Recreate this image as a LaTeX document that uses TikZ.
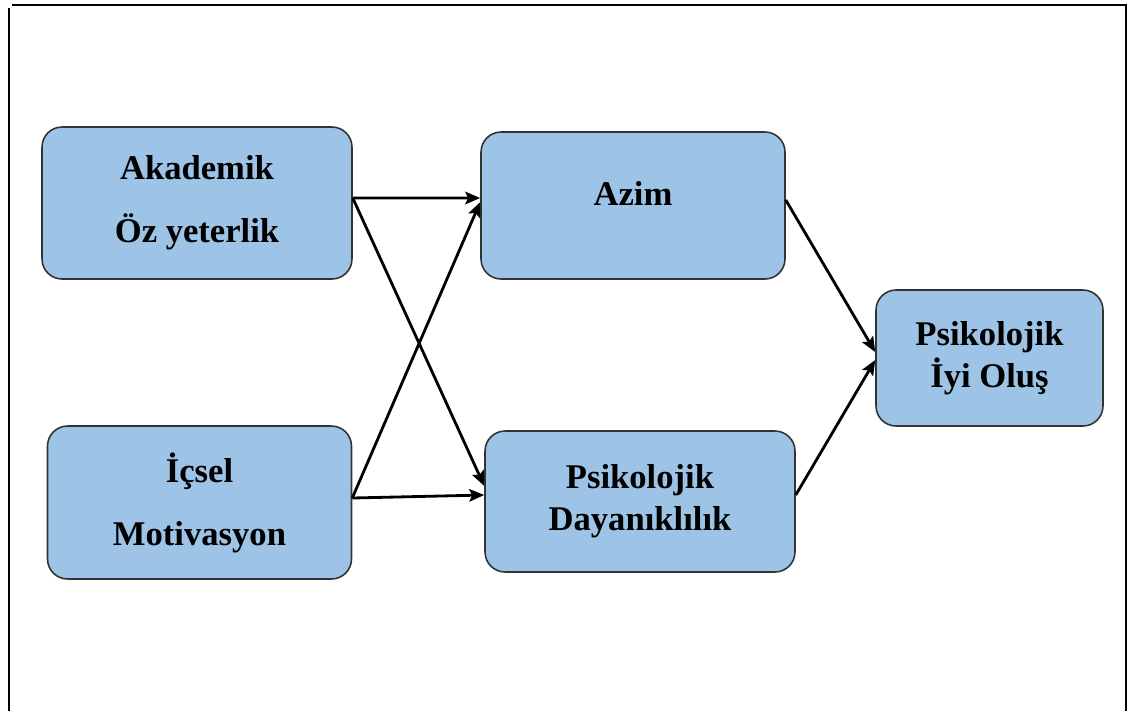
\documentclass[tikz,border=0pt]{standalone}
\usepackage{fontspec}
\setmainfont{Liberation Serif}[BoldFont={Liberation Serif Bold}]
\usetikzlibrary{arrows.meta}
\definecolor{kutumavi}{HTML}{9DC3E6}
\begin{document}
\begin{tikzpicture}[x=0.02cm,y=-0.02cm,
    kutu/.style={draw=black!80,line width=0.9pt,fill=kutumavi,rounded corners=0.4cm,
      align=center,inner sep=0pt,font=\fontsize{19.7}{23.8}\selectfont\bfseries},
    ok/.style={line width=1.6pt,-{Stealth[length=0.3cm,width=0.25cm,inset=0.06cm]}}]
    \useasboundingbox (0,0) rectangle (1131,711);
    \draw[line width=0.8pt] (12,5)--(1126,5)--(1126,711); \draw[line width=0.8pt] (9,8)--(9,711);
    \node[kutu,minimum width=6.2cm,minimum height=3.04cm] (akad) at (197,203) {Akademik\\[0.42cm]Öz yeterlik};
    \node[kutu,minimum width=6.08cm,minimum height=3.06cm] (icsel) at (199.5,502.5) {İçsel\\[0.42cm]Motivasyon};
    \node[kutu,minimum width=6.08cm,minimum height=2.94cm,text height=0.46cm,text depth=0.46cm] (azim) at (633,205.5) {Azim};
    \node[kutu,minimum width=6.2cm,minimum height=2.82cm] (dayan) at (640,501.5) {Psikolojik\\Dayanıklılık};
    \node[kutu,minimum width=4.54cm,minimum height=2.72cm] (iyi) at (989.5,358) {Psikolojik\\İyi Oluş};
    \draw[ok] ([yshift=0.1cm]akad.east) -- ([yshift=0.15cm]azim.west);
    \draw[ok] ([yshift=0.1cm]akad.east) -- ([yshift=0.31cm]dayan.west);
    \draw[ok] ([yshift=0.09cm]icsel.east) -- ([yshift=0.07cm]azim.west);
    \draw[ok] ([yshift=0.09cm]icsel.east) -- ([yshift=0.13cm]dayan.west);
    \draw[ok] ([yshift=0.11cm]azim.east) -- ([yshift=0.12cm]iyi.west);
    \draw[ok] ([yshift=0.13cm]dayan.east) -- ([yshift=-0.04cm]iyi.west);
  \end{tikzpicture}
\end{document}
